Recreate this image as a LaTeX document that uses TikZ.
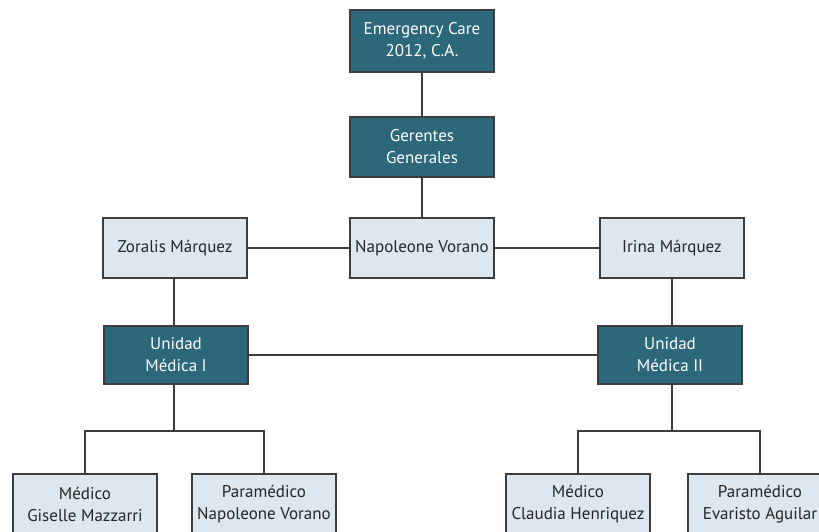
\documentclass[tikz,border=0pt]{standalone}
\usepackage{fontspec}
\setmainfont{PT Sans}
\usetikzlibrary{calc}
\definecolor{boxdark}{RGB}{44,104,122}
\definecolor{boxlight}{RGB}{220,231,239}
\definecolor{edge}{RGB}{60,60,60}

\begin{document}
\begin{tikzpicture}[x=1pt, y=-1pt,
        darkbox/.style={draw=edge, line width=1.4pt, fill=boxdark, text=white!92!boxlight,
            minimum width=144pt, minimum height=60pt, inner sep=0pt, align=center,
            font=\fontsize{17}{22}\selectfont},
        lightbox/.style={darkbox, fill=boxlight, text=black!85}]
        \useasboundingbox (0,0) rectangle (819,531);
        \coordinate (origin) at (0, 0);

        % top of the chart
        \node (ceo) [darkbox, minimum height=62pt] at ($(origin) + (422,41)$) {Emergency Care\\2012, C.A.};
        \node (ger) [darkbox] at ($(origin) + (422,147)$) {Gerentes\\Generales};

        % managers
        \node (zor) [lightbox] at ($(origin) + (175,248)$) {Zoralis Márquez};
        \node (nap) [lightbox] at ($(origin) + (422,248)$) {Napoleone Vorano};
        \node (iri) [lightbox] at ($(origin) + (672,248)$) {Irina Márquez};

        % medical units
        \node (uni1) [darkbox, minimum height=58pt] at ($(origin) + (176,355)$) {Unidad\\Médica I};
        \node (uni2) [darkbox, minimum height=58pt] at ($(origin) + (670,355)$) {Unidad\\Médica II};

        % staff
        \node (med1) [lightbox] at ($(origin) + (85,504)$) {Médico\\Giselle Mazzarri};
        \node (par1) [lightbox] at ($(origin) + (264,504)$) {Paramédico\\Napoleone Vorano};
        \node (med2) [lightbox] at ($(origin) + (578,504)$) {Médico\\Claudia Henriquez};
        \node (par2) [lightbox] at ($(origin) + (760,504)$) {Paramédico\\Evaristo Aguilar};

        \coordinate (join1) at ($(origin) + (174,431)$);
        \coordinate (join2) at ($(origin) + (672,431)$);

        \begin{scope}[edge, line width=1.4pt]
            \draw (ceo) -- (ger);
            \draw (ger) -- (nap);
            \draw (zor) -- (nap);
            \draw (nap) -- (iri);
            \draw (zor.south -| join1) -- (uni1.north -| join1);
            \draw (iri.south -| join2) -- (uni2.north -| join2);
            \draw (uni1) -- (uni2);
            \draw (uni1.south -| join1) -- (join1);
            \draw (uni2.south -| join2) -- (join2);
            \draw (med1.north) |- (join1) -| (par1.north);
            \draw (med2.north) |- (join2) -| (par2.north);
        \end{scope}
      \end{tikzpicture}
\end{document}
